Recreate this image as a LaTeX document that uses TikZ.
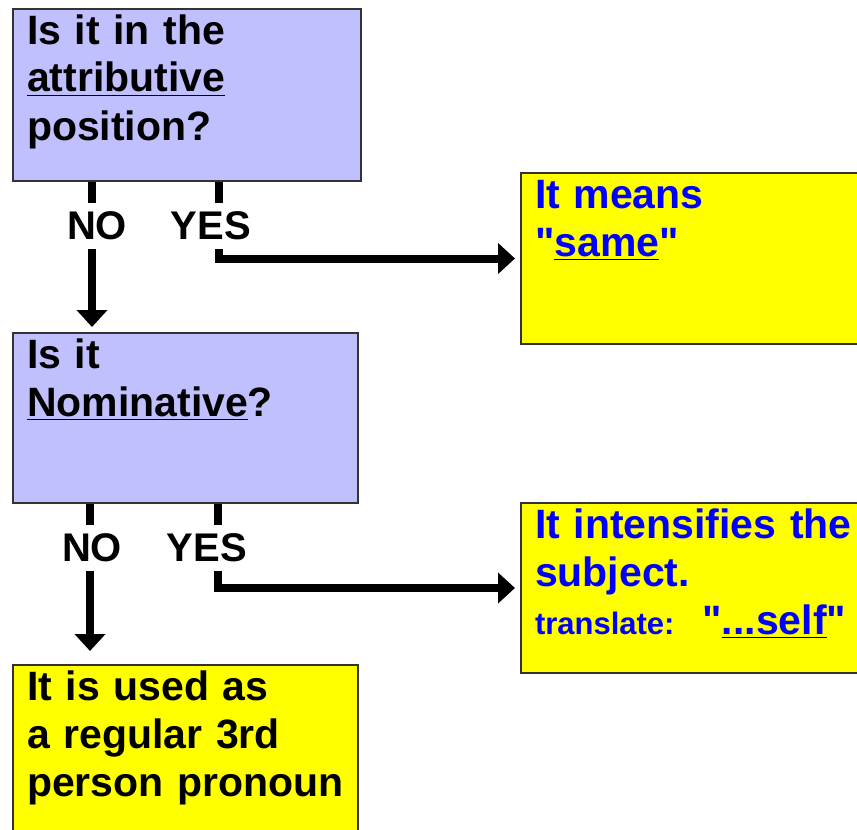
\documentclass[tikz,border=0pt]{standalone}
\usepackage{fontspec}
\setmainfont{Liberation Sans}
\usetikzlibrary{arrows.meta, positioning}
\definecolor{askfill}{RGB}{192,192,255}
\definecolor{ansfill}{RGB}{255,255,0}
\definecolor{anstext}{RGB}{0,0,255}
\newcommand{\uword}[1]{{\color{black}\underline{\color{anstext}#1}}}

\begin{document}
\begin{tikzpicture}[
    x=0.5pt, y=-0.5pt,
    box/.style={rectangle, draw=black!80, line width=1pt, fill=#1, align=left, inner xsep=7pt, inner ysep=4pt, text height=13.5pt, text depth=64.5pt, font=\bfseries\fontsize{20.5}{24}\selectfont},
    ask/.style={box=askfill, text width=160pt},
    ans/.style={box=ansfill, text=anstext, text width=180pt},
    tag/.style={inner xsep=0pt, inner ysep=4pt, font=\bfseries\fontsize{20}{24}\selectfont},
    link/.style={line width=4pt},
    arrow/.style={link, -{Triangle[width=15pt, length=8.5pt]}}
]
    \clip (0,0) rectangle (857,830);

    \node [ask, anchor=north west] (attr) at (12,8) {Is it in the\\\underline{attributive}\\position?};
    \node [ask, below=75pt of attr.south west, anchor=north west, text width=158.5pt, text depth=63.5pt] (nomin) {Is it\\\underline{Nominative}?};
    \node [box=ansfill, below=80pt of nomin.south west, anchor=north west, text width=158.5pt, text depth=70pt] (pron) {It is used as\\a regular 3rd\\person pronoun};
    \node [ans, anchor=north west, text depth=64pt] (same) at (520,172) {It means\\\textquotedbl\uword{same}\textquotedbl};
    \node [ans, anchor=north west, text depth=63.5pt] (self) at (520,502) {It intensifies the\\subject.\\{\fontsize{15.5}{24}\selectfont translate:}\hspace{14pt}\textquotedbl\uword{...self}\textquotedbl};

    \node [tag] (no1) at (97,226) {NO};
    \node [tag] (yes1) at (211,226) {YES};
    \node [tag] (no2) at (92,548) {NO};
    \node [tag] (yes2) at (207,548) {YES};

    \coordinate (n1) at (92,0);
    \coordinate (y1) at (219,0);
    \coordinate (n2) at (90,0);
    \coordinate (y2) at (218,0);

    \draw [link] (attr.south -| n1) -- (no1.north -| n1);
    \draw [arrow, shorten >=2.5pt] (no1.south -| n1) -- (nomin.north -| n1);
    \draw [link] (attr.south -| y1) -- (yes1.north -| y1);
    \draw [arrow, shorten >=2.5pt] (yes1.south -| y1) |- (same.west);

    \draw [link] (nomin.south -| n2) -- (no2.north -| n2);
    \draw [arrow, shorten >=6.5pt] (no2.south -| n2) -- (pron.north -| n2);
    \draw [link] (nomin.south -| y2) -- (yes2.north -| y2);
    \draw [arrow, shorten >=2.5pt] (yes2.south -| y2) |- (self.west);
\end{tikzpicture}
\end{document}
